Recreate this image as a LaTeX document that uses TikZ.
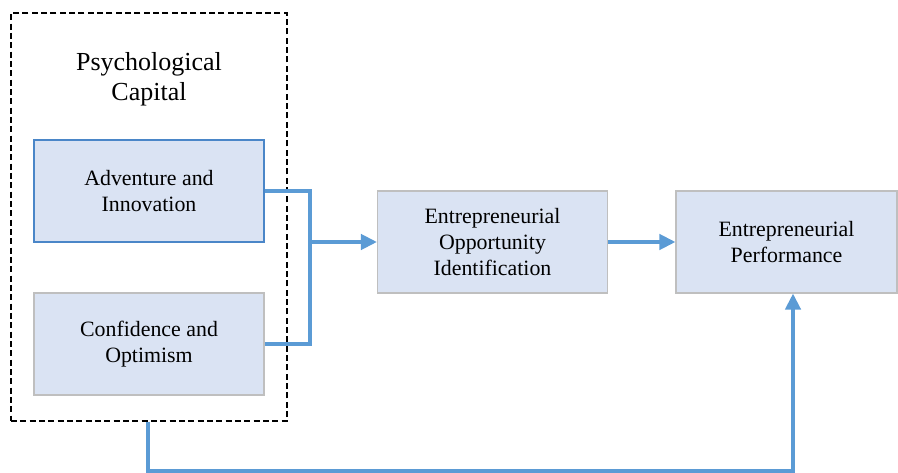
\documentclass[tikz,border=0pt]{standalone}
\usepackage{fontspec}
\setmainfont{Liberation Serif}
\usetikzlibrary{arrows.meta}
\definecolor{boxfill}{HTML}{DAE3F3}
\definecolor{boxgray}{HTML}{BFBFBF}
\definecolor{boxblue}{HTML}{4A86C8}
\definecolor{arrowblue}{HTML}{5B9BD5}
\tikzset{
  blockbox/.style={draw=boxgray, line width=0.9pt, fill=boxfill, minimum width=172.5pt, minimum height=76.5pt, inner sep=0pt, align=center, font=\fontsize{16.4}{19.5}\selectfont},
  conn/.style={draw=arrowblue, line width=2.6pt},
  connarrow/.style={conn, -{Triangle[length=12pt,width=11.5pt]}},
  outerbox/.style={draw=black, line width=0.9pt, dash pattern=on 4.5pt off 2.5pt, minimum width=207pt, minimum height=306pt, inner sep=0pt}
}
\begin{document}
\begin{tikzpicture}[x=0.75pt,y=-0.75pt]
\useasboundingbox (0,0) rectangle (898,473);
\node[outerbox] (pc) at (149,217) {};
\node[align=center, font=\fontsize{19.5}{22.5}\selectfont] (title) at (149,79) {Psychological\\Capital};
\node[blockbox, draw=boxblue] (a) at (149,191) {Adventure and\\Innovation};
\node[blockbox] (b) at (149,344) {Confidence and\\Optimism};
\node[blockbox] (c) at (492.5,242) {Entrepreneurial\\Opportunity\\Identification};
\node[blockbox, minimum width=165.75pt] (d) at (786.5,242) {Entrepreneurial\\Performance};
\coordinate (j) at (310,242);
\coordinate (b1) at (148,471);
\coordinate (b2) at (793,471);
\draw[conn] (a.east) -| (j) |- (b.east);
\draw[connarrow] (j) -- (c.west);
\draw[connarrow] (c.east) -- (d.west);
\draw[connarrow] (b1 |- pc.south) -- (b1) -- (b2) -- (b2 |- d.south);
\end{tikzpicture}
\end{document}
